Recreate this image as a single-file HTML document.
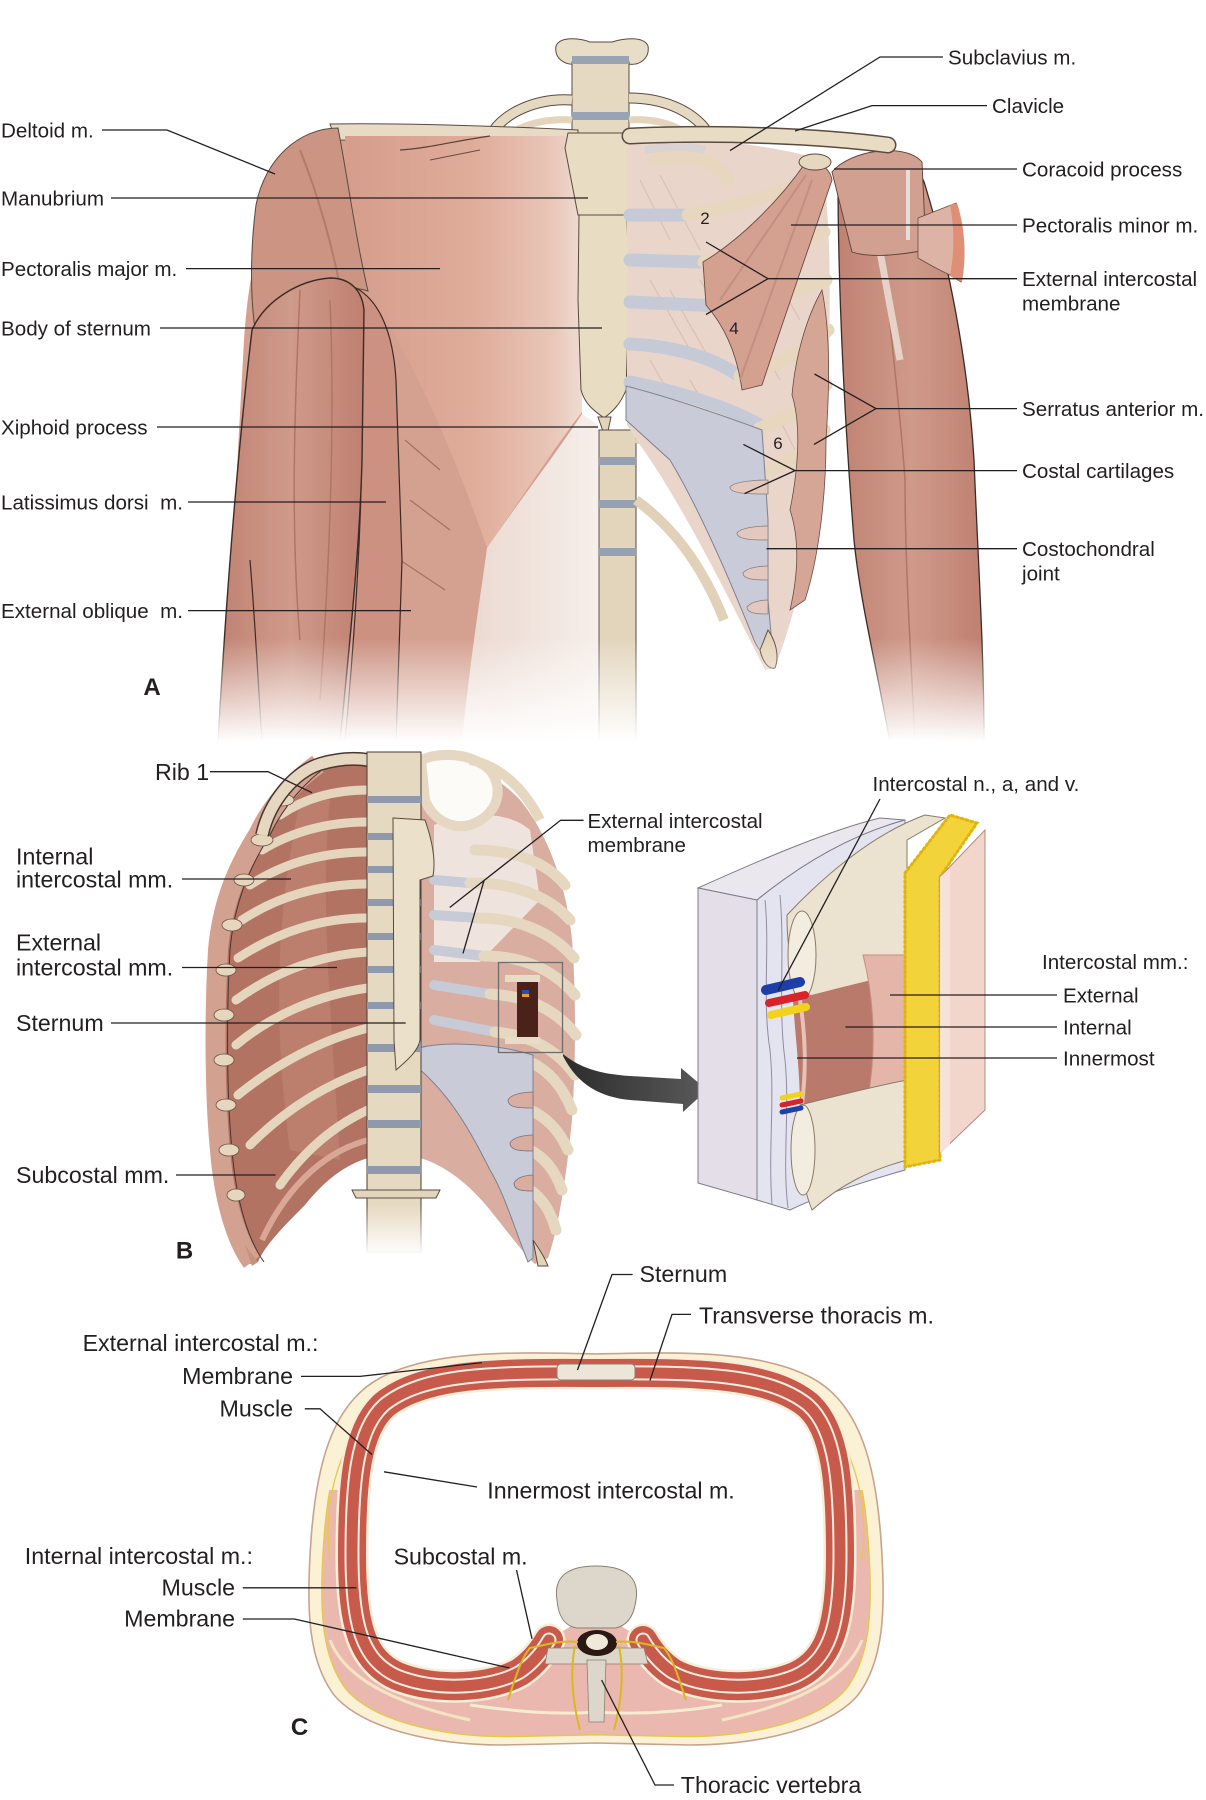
<!DOCTYPE html>
<html><head><meta charset="utf-8"><style>
html,body{margin:0;padding:0;background:#fff;}
svg{display:block;}
text{font-family:"Liberation Sans",Arial,sans-serif;fill:#231f20;}
.a{font-size:20.6px;}
.b{font-size:23.2px;}
.L{stroke:#231f20;stroke-width:1.3;fill:none;}
.o{stroke:#5a4a40;stroke-width:1;}
</style></head><body>
<svg width="1206" height="1800" viewBox="0 0 1206 1800" xmlns="http://www.w3.org/2000/svg" xmlns:xlink="http://www.w3.org/1999/xlink">
<defs>
<linearGradient id="fadeA" x1="0" y1="0" x2="0" y2="1" gradientUnits="objectBoundingBox">
<stop offset="0" stop-color="#fff"/><stop offset="0.86" stop-color="#fff"/><stop offset="1" stop-color="#000"/></linearGradient>
<mask id="mA" maskUnits="userSpaceOnUse" x="0" y="0" width="1206" height="745"><rect x="0" y="0" width="1206" height="742" fill="url(#fadeA)"/></mask>
<linearGradient id="spineFade" x1="0" y1="0" x2="0" y2="1"><stop offset="0" stop-color="#fff" stop-opacity="0"/><stop offset="1" stop-color="#fff" stop-opacity="1"/></linearGradient>
<linearGradient id="pec" x1="340" y1="0" x2="590" y2="0" gradientUnits="userSpaceOnUse">
<stop offset="0" stop-color="#d59c8b"/><stop offset="0.55" stop-color="#e0ad9b"/><stop offset="0.85" stop-color="#e9c6b8"/><stop offset="1" stop-color="#f1e2da"/></linearGradient>
<linearGradient id="wedge" x1="480" y1="0" x2="600" y2="0" gradientUnits="userSpaceOnUse">
<stop offset="0" stop-color="#ecdbd3"/><stop offset="1" stop-color="#f6efea"/></linearGradient>
<linearGradient id="arm" x1="0" y1="0" x2="1" y2="0"><stop offset="0" stop-color="#c08272"/><stop offset="0.5" stop-color="#cf9a8a"/><stop offset="1" stop-color="#bf8070"/></linearGradient>
<linearGradient id="arrowG" x1="0" y1="0" x2="1" y2="0"><stop offset="0" stop-color="#2c2c2c"/><stop offset="1" stop-color="#5a5a5a"/></linearGradient>
<clipPath id="lowC"><rect x="0" y="1490" width="1206" height="300"/></clipPath>
<path id="wallP" d="M549,1640 C542,1652 532,1664 520,1672 C492,1688 437,1692 397,1676 C362,1660 352,1625 352,1555 C352,1485 356,1430 384,1405 C422,1374 492,1372 596,1373 C700,1372 770,1374 808,1405 C836,1430 840,1485 840,1555 C840,1625 830,1660 795,1676 C755,1692 700,1688 672,1672 C660,1664 650,1652 643,1640"/>
</defs>

<!-- ================= PANEL A ================= -->
<g mask="url(#mA)">
 <path d="M556,46 C560,36 580,38 590,42 L612,42 C624,38 644,36 648,46 C650,58 640,66 628,64 L578,64 C564,66 554,58 556,46 Z" fill="#e8ddc7" class="o"/>
 <rect x="572" y="62" width="57" height="74" fill="#e6d9c1" class="o"/>
 <rect x="572" y="56" width="57" height="8" fill="#98a3b3"/>
 <rect x="572" y="112" width="57" height="8" fill="#98a3b3"/>
 <path d="M572,100 C540,98 505,110 490,136" stroke="#5a4a40" stroke-width="11" fill="none"/>
 <path d="M572,100 C540,98 505,110 490,136" stroke="#e6d9c1" stroke-width="9" fill="none"/>
 <path d="M629,98 C665,98 696,112 710,136" stroke="#5a4a40" stroke-width="11" fill="none"/>
 <path d="M629,98 C665,98 696,112 710,136" stroke="#e6d9c1" stroke-width="9" fill="none"/>
 <path d="M572,120 C548,118 522,124 508,136" stroke="#e3d4bb" stroke-width="7" fill="none"/>
 <path d="M629,120 C652,118 676,124 690,136" stroke="#e3d4bb" stroke-width="7" fill="none"/>

 <path d="M335,128 L578,133 L582,420 L598,430 L598,742 L222,742 L232,560 L244,340 C250,250 270,170 335,128 Z" fill="#d4a090"/>
 <path d="M330,124 C400,123 500,126 578,130 L578,142 L336,140 Z" fill="#e8dbc5" class="o"/>
 <path d="M345,136 L578,136 L582,412 C560,440 520,500 487,548 C460,470 420,370 368,291 C352,240 346,190 345,136 Z" fill="url(#pec)"/>
 <path d="M400,150 C430,148 460,140 490,136" stroke="#5a4038" stroke-width="1.2" fill="none"/>
 <path d="M430,160 L480,150" stroke="#6a4a40" stroke-width="1"/>
 <path d="M338,128 C300,128 265,158 256,205 C250,250 250,300 256,335 C280,300 320,278 368,291 C356,240 348,180 338,128 Z" fill="#cc9483" class="o"/>
 <path d="M300,150 C320,200 330,240 340,285" stroke="#b47a6a" stroke-width="2" fill="none"/>
 <path d="M582,414 L598,425 L598,742 L462,742 C470,660 480,600 487,548 C520,500 555,455 582,414 Z" fill="url(#wedge)"/>
 <path d="M405,440 L440,470 M410,500 L450,530 M400,560 L445,590" stroke="#a86e60" stroke-width="1.2"/>
 <path d="M356,288 C378,300 393,330 396,380 L402,560 L396,742 L345,742 C356,620 362,520 362,420 Z" fill="#cc9181" stroke="#3c2a25" stroke-width="1.2"/>
 <path d="M252,330 C265,300 300,280 330,278 C350,278 362,290 364,310 L362,460 C360,540 352,620 340,742 L218,742 C226,600 238,450 252,330 Z" fill="url(#arm)" stroke="#3c2a25" stroke-width="1.4"/>
 <path d="M300,290 C295,400 290,520 300,640 M330,300 C335,420 330,560 320,700" stroke="#b07565" stroke-width="1.5" fill="none"/>
 <path d="M250,560 C255,620 258,680 262,742" stroke="#3c2a25" stroke-width="1.2" fill="none"/>

 <path d="M568,133 L636,133 L641,148 L630,215 L578,215 L565,148 Z" fill="#e8dcc3" class="o"/>
 <path d="M579,215 L627,215 L629,300 L626,390 C620,405 612,412 604,418 C596,412 585,405 581,390 L578,300 Z" fill="#e8dcc3" class="o"/>
 <path d="M598,417 L611,417 L606,440 Z" fill="#e2d5bb" class="o"/>
 <rect x="599" y="430" width="37" height="312" fill="#e2d5bc" class="o"/>
 <rect x="599" y="457" width="37" height="8" fill="#95a0b0"/>
 <rect x="599" y="500" width="37" height="8" fill="#95a0b0"/>
 <rect x="599" y="548" width="37" height="8" fill="#95a0b0"/>
 <path d="M636,438 C660,445 680,455 692,468" stroke="#e0d1b8" stroke-width="10" fill="none"/>
 <path d="M636,500 C670,525 700,560 724,620" stroke="#e0d1b8" stroke-width="10" fill="none"/>

 <path d="M630,142 L700,140 C740,142 790,150 822,160 C832,230 832,330 824,440 C818,520 800,600 775,668 L765,670 C730,600 680,500 640,445 L627,425 L627,150 Z" fill="#ead5cb"/>
 <g stroke="#dcc1b5" stroke-width="1.3">
  <path d="M640,180 L670,240 M660,175 L700,250 M650,280 L690,350 M670,290 L710,360 M700,280 L740,350 M650,360 L690,430 M690,380 L730,450 M720,400 L760,470 M740,310 L780,380 M760,250 L800,320 M780,420 L810,480 M690,470 L730,540"/>
 </g>
 <g stroke="#c6c9d6" stroke-width="13" fill="none" stroke-linecap="round">
  <path d="M630,215 L684,215"/>
  <path d="M630,260 L700,262"/>
  <path d="M630,302 L720,306"/>
  <path d="M630,344 C670,346 710,356 736,374"/>
  <path d="M630,382 C680,392 730,408 758,424"/>
 </g>
 <g stroke="#e6d7be" stroke-width="13" fill="none" stroke-linecap="round">
  <path d="M655,160 C690,150 715,160 728,180"/>
  <path d="M688,215 C730,208 770,196 806,182"/>
  <path d="M704,262 C745,255 790,245 824,232"/>
  <path d="M722,306 C765,300 800,290 826,280"/>
  <path d="M740,376 C775,368 805,350 828,330"/>
  <path d="M760,428 C790,420 812,400 826,385"/>
  <path d="M770,470 C795,460 812,445 824,430"/>
 </g>
 <path d="M626,386 C680,400 735,420 762,430 L768,520 L768,600 L772,645 C768,655 760,655 754,640 C730,580 700,510 670,460 L626,420 Z" fill="#c9ccd8" stroke="#7d8090" stroke-width="1"/>
 <g fill="#e2c8bf" stroke="#8a7f80" stroke-width="0.8">
  <path d="M730,487 C735,480 768,480 768,480 L768,494 C750,494 730,494 730,487 Z"/>
  <path d="M737,533 C742,526 768,526 768,526 L768,540 C755,540 737,540 737,533 Z"/>
  <path d="M743,573 C748,566 768,566 768,566 L768,580 C758,580 743,580 743,573 Z"/>
  <path d="M747,607 C752,600 768,600 768,600 L768,614 C760,614 747,614 747,607 Z"/>
 </g>
 <path d="M768,630 C775,640 780,655 775,668 C768,670 762,660 760,650 Z" fill="#e4d3b8" class="o"/>
 <path d="M822,290 C805,320 795,360 792,395 C800,420 800,460 790,510 C800,540 798,575 790,610 L805,600 C818,560 826,500 826,440 C830,380 830,330 822,290 Z" fill="#d5a696" stroke="#6a4a40" stroke-width="0.8"/>
 <path d="M806,162 C818,160 830,168 832,180 C815,230 790,300 762,385 L742,390 C738,360 728,330 706,305 L703,262 C740,240 780,200 806,162 Z" fill="#d4a090" stroke="#6a4a40" stroke-width="0.9"/>
 <path d="M806,175 L720,300 M812,180 L740,380" stroke="#c48e80" stroke-width="2"/>
 <path d="M838,178 C860,155 915,150 925,185 C948,260 968,360 974,460 C978,560 984,650 984,742 L890,742 C875,660 860,600 854,540 C846,440 838,300 838,178 Z" fill="url(#arm)" stroke="#3c2a25" stroke-width="1.3"/>
 <path d="M880,200 C885,300 900,400 905,480 C905,560 910,640 915,742" stroke="#b07565" stroke-width="1.5" fill="none"/>
 <path d="M865,170 L900,360" stroke="#e6d2c8" stroke-width="7"/>
 <path d="M832,172 C850,150 905,142 922,162 L926,250 C900,255 870,258 852,252 Z" fill="#d2a090" stroke="#5a4038" stroke-width="0.9"/>
 <path d="M908,170 L908,240" stroke="#e8dcd6" stroke-width="4"/>
 <path d="M918,218 L956,203 C964,230 964,260 961,282 L948,274 C935,268 925,262 918,258 Z" fill="#dcb3a4" stroke="#6a4a40" stroke-width="0.8"/>
 <path d="M950,205 L957,203 C966,230 966,260 962,282 L950,276 C955,250 954,225 950,205 Z" fill="#df8f76"/>
 <path d="M630,136 C720,132 820,136 888,145" stroke="#5a4a40" stroke-width="17" fill="none" stroke-linecap="round"/>
 <path d="M630,136 C720,132 820,136 888,145" stroke="#e8dcc5" stroke-width="14" fill="none" stroke-linecap="round"/>
 <path d="M645,150 C670,146 690,146 705,150" stroke="#d9d3d3" stroke-width="8" fill="none"/>
 <ellipse cx="815" cy="162" rx="16" ry="8" fill="#e6d8bf" class="o"/>
</g>

<g class="a">
<text x="1" y="137.5">Deltoid m.</text>
<text x="1" y="205.5">Manubrium</text>
<text x="1" y="276">Pectoralis major m.</text>
<text x="1" y="335.5">Body of sternum</text>
<text x="1" y="434.5">Xiphoid process</text>
<text x="1" y="509.5" style="white-space:pre">Latissimus dorsi  m.</text>
<text x="1" y="618" style="white-space:pre">External oblique  m.</text>
<text x="948" y="64.5">Subclavius m.</text>
<text x="992" y="113">Clavicle</text>
<text x="1022" y="176.5">Coracoid process</text>
<text x="1022" y="232.5">Pectoralis minor m.</text>
<text x="1022" y="286">External intercostal</text>
<text x="1022" y="310.5">membrane</text>
<text x="1022" y="416">Serratus anterior m.</text>
<text x="1022" y="478">Costal cartilages</text>
<text x="1022" y="556">Costochondral</text>
<text x="1022" y="580.5">joint</text>
</g>
<g style="font-size:17px" text-anchor="middle">
<text x="705" y="224">2</text><text x="734" y="334">4</text><text x="778" y="449">6</text>
</g>
<text x="152" y="695" style="font-size:24px;font-weight:bold" text-anchor="middle">A</text>
<g class="L">
<path d="M102,130 L167,130 L275,174"/>
<path d="M111,198 L588,198"/>
<path d="M186,268.6 L440,268.6"/>
<path d="M160,328 L602,328"/>
<path d="M157,427 L598,427"/>
<path d="M188,502 L386,502"/>
<path d="M188,610.6 L411,610.6"/>
<path d="M943,57 L880,57 L730,150.6"/>
<path d="M987,105.6 L872,105.6 L795,131"/>
<path d="M1017,169 L834,169"/>
<path d="M1017,225 L791,225"/>
<path d="M1017,278.7 L768,278.7 L706,242 M768,278.7 L706,314.5"/>
<path d="M1017,408.6 L876,408.6 L814.5,374 M876,408.6 L814,444.4"/>
<path d="M1017,470.6 L795,470.6 L743.4,444.4 M795,470.6 L744.5,493.6"/>
<path d="M1017,548.7 L766.5,548.7"/>
</g>

<!-- ================= PANEL B ================= -->
<g>
 <path d="M318,762 C300,775 275,800 262,830 C240,860 222,900 216,950 C212,1020 213,1100 218,1150 C222,1200 235,1240 250,1264 L258,1262 C265,1245 285,1225 305,1205 C325,1180 345,1165 368,1158 L368,758 C350,758 330,758 318,762 Z" fill="#b27363"/>
 <path d="M420,758 L440,758 C470,762 500,778 520,800 C545,830 566,880 572,940 C576,990 576,1060 572,1120 C566,1180 558,1230 548,1258 L535,1264 C525,1255 510,1235 490,1210 C470,1185 445,1165 420,1158 Z" fill="#d9ad9f"/>
 <path d="M300,800 C280,900 270,1000 290,1150 L340,1160 C330,1000 320,900 330,800 Z" fill="#c08474" opacity="0.7"/>
 <g stroke="#e4d5bc" stroke-width="9" fill="none" stroke-linecap="round">
  <path d="M368,790 C335,790 305,798 280,815"/>
  <path d="M368,822 C330,822 295,830 262,850"/>
  <path d="M368,852 C325,852 285,862 250,885"/>
  <path d="M368,884 C322,884 280,895 242,920"/>
  <path d="M368,918 C320,918 278,932 238,958"/>
  <path d="M368,952 C318,955 275,972 236,1000"/>
  <path d="M368,988 C318,995 272,1015 236,1045"/>
  <path d="M368,1028 C320,1040 275,1065 238,1095"/>
  <path d="M368,1070 C325,1085 285,1110 250,1145"/>
  <path d="M368,1110 C335,1125 305,1150 280,1185"/>
 </g>
 <path d="M368,1140 C330,1150 290,1180 262,1240" stroke="#d9a796" stroke-width="6" fill="none"/>
 <path d="M318,764 C295,780 272,805 258,835 C236,870 222,905 218,950 C214,1020 215,1100 220,1150 C224,1200 236,1240 252,1262" stroke="#d3a190" stroke-width="20" fill="none"/>
 <path d="M318,764 C295,780 272,805 258,835 C236,870 222,905 218,950 C214,1020 215,1100 220,1150 C224,1200 236,1240 252,1262" stroke="#4a3530" stroke-width="1" fill="none" transform="translate(12,0)"/>
 <g fill="#e6d6bd" stroke="#6a5548" stroke-width="0.8">
  <ellipse cx="282" cy="800" rx="12" ry="6"/><ellipse cx="262" cy="840" rx="11" ry="6"/><ellipse cx="244" cy="880" rx="10" ry="6"/>
  <ellipse cx="232" cy="925" rx="10" ry="6"/><ellipse cx="226" cy="970" rx="10" ry="6"/><ellipse cx="224" cy="1015" rx="10" ry="6"/>
  <ellipse cx="224" cy="1060" rx="10" ry="6"/><ellipse cx="226" cy="1105" rx="10" ry="6"/><ellipse cx="229" cy="1150" rx="10" ry="6"/>
  <ellipse cx="236" cy="1195" rx="9" ry="6"/>
 </g>
 <path d="M262,835 C270,800 295,772 320,764 C340,758 355,758 368,760" stroke="#4a3530" stroke-width="14" fill="none"/>
 <path d="M262,835 C270,800 295,772 320,764 C340,758 355,758 368,760" stroke="#e6d8c0" stroke-width="11" fill="none"/>
 <path d="M434,825 C470,810 510,812 530,830 L540,900 L480,962 L434,962 Z" fill="#efe3dd"/>
 <path d="M421,760 C440,752 470,752 490,770 C505,790 498,815 470,825 C450,830 432,818 425,800 Z" fill="#fdfbf8" stroke="#e5d7c1" stroke-width="10"/>
 <path d="M470,760 C500,765 525,790 540,820" stroke="#e6d8c0" stroke-width="10" fill="none"/>
 <g stroke="#c7cad7" stroke-width="10" fill="none" stroke-linecap="round">
  <path d="M434,880 L470,883"/><path d="M434,915 L478,918"/><path d="M434,950 L484,956"/>
  <path d="M434,985 L490,994"/><path d="M434,1020 L495,1032"/>
 </g>
 <g stroke="#e6d8c0" stroke-width="11" fill="none" stroke-linecap="round">
  <path d="M475,850 C510,850 545,860 565,885"/>
  <path d="M470,883 C510,882 548,895 570,920"/>
  <path d="M478,918 C515,918 550,930 574,958"/>
  <path d="M484,956 C520,956 552,968 575,995"/>
  <path d="M490,994 C525,996 555,1008 576,1035"/>
  <path d="M495,1032 C528,1035 556,1048 575,1075"/>
  <path d="M530,1062 C548,1070 562,1085 572,1110"/>
  <path d="M530,1110 C548,1118 560,1132 568,1150"/>
  <path d="M530,1150 C545,1158 555,1170 562,1190"/>
  <path d="M530,1190 C542,1198 550,1210 556,1230"/>
 </g>
 <path d="M418,1048 C450,1040 500,1045 533,1055 L533,1258 L528,1262 C515,1230 505,1195 490,1170 C470,1130 450,1095 418,1068 Z" fill="#c9ccd8" stroke="#7d8090" stroke-width="1"/>
 <g fill="#d9ad9f" stroke="#7d7078" stroke-width="0.8">
  <path d="M508,1100 C512,1092 533,1092 533,1092 L533,1108 C520,1108 508,1108 508,1100 Z"/>
  <path d="M510,1143 C514,1135 533,1135 533,1135 L533,1151 C522,1151 510,1151 510,1143 Z"/>
  <path d="M514,1183 C518,1175 533,1175 533,1175 L533,1191 C524,1191 514,1191 514,1183 Z"/>
 </g>
 <path d="M533,1240 C540,1250 545,1258 548,1266 L538,1266 Z" fill="#e4d3b8" class="o"/>
 <path d="M245,1245 L252,1266 L258,1262 Z" fill="#c7907f"/>
 <!-- spine -->
 <rect x="367" y="752" width="54" height="500" fill="#e6d9c1" stroke="#4a3a30" stroke-width="1"/>
 <g fill="#8e9aab">
  <rect x="367" y="796" width="54" height="7"/><rect x="367" y="833" width="54" height="7"/><rect x="367" y="866" width="54" height="7"/>
  <rect x="367" y="899" width="54" height="7"/><rect x="367" y="933" width="54" height="7"/><rect x="367" y="966" width="54" height="7"/>
  <rect x="367" y="1002" width="54" height="7"/><rect x="367" y="1044" width="54" height="8"/><rect x="367" y="1085" width="54" height="8"/>
  <rect x="367" y="1120" width="54" height="8"/><rect x="367" y="1166" width="54" height="8"/>
 </g>
 <path d="M352,1190 L440,1190 L436,1198 L356,1198 Z" fill="#e2d5bc" class="o"/>
 <rect x="350" y="1205" width="90" height="50" fill="url(#spineFade)"/>
 <path d="M393,818 L425,820 C432,840 436,860 433,876 L420,880 L420,1040 C418,1052 405,1062 396,1070 L394,1040 Z" fill="#ebe0c9" stroke="#5a4a40" stroke-width="1"/>
 <rect x="498.5" y="962.5" width="64" height="90" fill="none" stroke="#6d6d6d" stroke-width="1.3"/>
 <rect x="517" y="978" width="21" height="60" fill="#4b2219"/>
 <path d="M505,975 L540,975 L540,982 L505,982 Z" fill="#e8dcc6"/>
 <path d="M505,1037 L540,1037 L540,1044 L505,1044 Z" fill="#e8dcc6"/>
 <rect x="522" y="990" width="7" height="4" fill="#2a4fb0"/><rect x="522" y="994" width="7" height="3" fill="#e8a020"/>
</g>
<path d="M563,1054 C580,1068 600,1074 630,1076 L681,1079 L681,1068 L707,1090 L683,1112 L683,1104 L630,1100 C600,1097 578,1085 563,1056 Z" fill="url(#arrowG)"/>

<!-- inset block -->
<g>
 <path d="M698,888 C760,860 830,830 880,818 L905,820 C850,835 800,865 757,900 Z" fill="#ebe7ef" stroke="#7d7a88" stroke-width="1"/>
 <path d="M698,888 L757,900 L757,1200 L698,1183 Z" fill="#e3dee8" stroke="#7d7a88" stroke-width="1"/>
 <path d="M757,900 C800,865 850,835 905,820 L905,1170 C870,1180 820,1195 790,1210 L757,1200 Z" fill="#e4e4f0" stroke="#7d7a88" stroke-width="1"/>
 <path d="M765,900 C770,950 762,1000 770,1050 C775,1100 768,1150 772,1205 M780,895 C785,950 778,1010 785,1060 C790,1110 782,1160 788,1208" stroke="#8f8ca0" stroke-width="1" fill="none"/>
 <path d="M787,915 C820,880 870,835 925,815 L945,818 L907,840 L907,975 C870,982 840,990 815,998 C795,990 787,960 787,915 Z" fill="#ebe3cf" stroke="#8a7a68" stroke-width="1"/>
 <ellipse cx="802" cy="955" rx="14" ry="44" fill="#f3ede0" stroke="#8a7a68" stroke-width="1"/>
 <path d="M793,1000 C830,990 870,980 907,972 L907,1083 C870,1090 835,1100 800,1108 C800,1070 795,1035 793,1000 Z" fill="#b9796b"/>
 <path d="M863,955 C872,990 878,1040 868,1098 L907,1085 L907,955 Z" fill="#e4b5a9" stroke="#c48e80" stroke-width="1"/>
 <path d="M800,1000 C806,1040 806,1070 802,1105" stroke="#e8c2b8" stroke-width="4" fill="none"/>
 <path d="M800,1105 C840,1095 875,1086 907,1080 L907,1160 C870,1170 840,1185 812,1210 C800,1180 797,1140 800,1105 Z" fill="#ebe3cf" stroke="#8a7a68" stroke-width="1"/>
 <ellipse cx="803" cy="1150" rx="12" ry="45" fill="#f3ede0" stroke="#8a7a68" stroke-width="1"/>
 <path d="M766,990 L800,982" stroke="#1f3fa8" stroke-width="10" stroke-linecap="round"/>
 <path d="M769,1003 L805,995" stroke="#d8232a" stroke-width="8" stroke-linecap="round"/>
 <path d="M771,1015 L806,1007" stroke="#f3d21a" stroke-width="8" stroke-linecap="round"/>
 <path d="M782,1098 L801,1094" stroke="#f3d21a" stroke-width="5" stroke-linecap="round"/>
 <path d="M782,1105 L801,1101" stroke="#d8232a" stroke-width="5" stroke-linecap="round"/>
 <path d="M782,1112 L801,1108" stroke="#1f3fa8" stroke-width="5" stroke-linecap="round"/>
 <path d="M905,873 L950,815 L977,823 L940,877 L940,1160 L905,1167 Z" fill="#f2d33a" stroke="#e0b410" stroke-width="3" stroke-dasharray="2 3" stroke-linecap="round"/>
 <path d="M940,877 L985,830 L985,1110 L940,1153 Z" fill="#f3d6cb" stroke="#b8897a" stroke-width="1"/>
 <path d="M940,877 L950,868 L950,1145 L940,1153 Z" fill="#f7e2da"/>
</g>

<g class="b">
<text x="155" y="780">Rib 1</text>
<text x="16" y="864.5">Internal</text>
<text x="16" y="887.5">intercostal mm.</text>
<text x="16" y="950.5">External</text>
<text x="16" y="975.5">intercostal mm.</text>
<text x="16" y="1031">Sternum</text>
<text x="16" y="1183">Subcostal mm.</text>
</g>
<text x="184.5" y="1258.5" style="font-size:24px;font-weight:bold" text-anchor="middle">B</text>
<g class="a">
<text x="587.5" y="828">External intercostal</text>
<text x="587.5" y="852">membrane</text>
<text x="872.5" y="791">Intercostal n., a, and v.</text>
<text x="1042" y="969">Intercostal mm.:</text>
<text x="1063" y="1002.5">External</text>
<text x="1063" y="1034.5">Internal</text>
<text x="1063" y="1065.5">Innermost</text>
</g>
<g class="L">
<path d="M210,771.7 L268,771.7 L312,792.7"/>
<path d="M182,879 L291,879"/>
<path d="M182,967.5 L337,967.5"/>
<path d="M111,1023 L405.7,1023"/>
<path d="M176,1175 L275.5,1175"/>
<path d="M583.6,820.3 L560.6,820.3 L449.7,907.5 M484,880.7 L463,953.4"/>
<path d="M880,799 L778,990.6"/>
<path d="M1057,995 L890,995"/>
<path d="M1057,1027 L845.5,1027"/>
<path d="M1057,1058 L797,1058"/>
</g>

<!-- ================= PANEL C ================= -->
<g>
 <path d="M596,1354 C680,1352 760,1350 812,1378 C862,1405 876,1470 881,1540 C886,1610 884,1660 858,1695 C830,1728 760,1745 690,1745 L596,1743 L502,1745 C432,1745 362,1728 334,1695 C308,1660 306,1610 311,1540 C316,1470 330,1405 380,1378 C432,1350 512,1352 596,1354 Z" fill="#fbf2d6" stroke="#c9a28e" stroke-width="1.6"/>
 <g clip-path="url(#lowC)">
  <path d="M596,1354 C680,1352 760,1350 812,1378 C862,1405 876,1470 881,1540 C886,1610 884,1660 858,1695 C830,1728 760,1745 690,1745 L596,1743 L502,1745 C432,1745 362,1728 334,1695 C308,1660 306,1610 311,1540 C316,1470 330,1405 380,1378 C432,1350 512,1352 596,1354 Z" fill="#ebb8b0" stroke="#e6c84a" stroke-width="1.5" transform="translate(596,1560) scale(0.955) translate(-596,-1560)"/>
 </g>
 <path d="M470,1705 C520,1712 560,1715 596,1712 C640,1715 680,1712 722,1705" stroke="#f6ecd0" stroke-width="3" fill="none"/>
 <path d="M330,1640 C345,1680 400,1705 470,1720 M862,1640 C847,1680 792,1705 722,1720" stroke="#f3e4c4" stroke-width="3" fill="none"/>
 <path d="M330,1560 C322,1500 340,1430 390,1395 M862,1560 C870,1500 852,1430 802,1395" stroke="#e6c84a" stroke-width="1.3" fill="none"/>
 <path d="M549,1640 C542,1652 532,1664 520,1672 C492,1688 437,1692 397,1676 C362,1660 352,1625 352,1555 C352,1485 356,1430 384,1405 C422,1374 492,1372 596,1373 C700,1372 770,1374 808,1405 C836,1430 840,1485 840,1555 C840,1625 830,1660 795,1676 C755,1692 700,1688 672,1672 C660,1664 650,1652 643,1640 L596,1610 Z" fill="#ffffff"/>
 <g fill="none" stroke-linecap="round">
  <use xlink:href="#wallP" href="#wallP" stroke="#f7eed8" stroke-width="33"/>
  <use xlink:href="#wallP" href="#wallP" stroke="#c85a4b" stroke-width="28"/>
  <use xlink:href="#wallP" href="#wallP" stroke="#f5ecdf" stroke-width="15"/>
  <use xlink:href="#wallP" href="#wallP" stroke="#c85a4b" stroke-width="11"/>
 </g>
 <rect x="557" y="1364" width="78" height="16" rx="4" fill="#ede6d8" stroke="#8a7f72" stroke-width="1"/>
 <path d="M557,1600 C553,1575 570,1566 596,1566 C622,1566 640,1575 636,1600 C634,1615 628,1626 615,1628 L577,1628 C564,1626 558,1615 557,1600 Z" fill="#ddd6cb" stroke="#8a7f72" stroke-width="1"/>
 <path d="M548,1648 L644,1648 L648,1664 L545,1664 Z" fill="#ddd6cb" stroke="#8a7f72" stroke-width="0.8"/>
 <path d="M587,1660 L606,1660 L604,1722 L589,1722 Z" fill="#ddd6cb" stroke="#8a7f72" stroke-width="0.8"/>
 <ellipse cx="597" cy="1643" rx="20" ry="13" fill="#2a1812"/>
 <ellipse cx="597" cy="1642" rx="11" ry="8" fill="#f0e8d8"/>
 <path d="M578,1642 C560,1640 545,1645 530,1648 C520,1660 515,1680 508,1700 M616,1642 C634,1640 649,1645 664,1648 C674,1660 679,1680 686,1700 M575,1646 C570,1670 572,1700 580,1730 M619,1646 C624,1670 622,1700 614,1730" stroke="#d9b820" stroke-width="2" fill="none"/>
</g>

<g class="b">
<text x="639.5" y="1282">Sternum</text>
<text x="699" y="1323.5">Transverse thoracis m.</text>
<text x="82.6" y="1351">External intercostal m.:</text>
<text x="293" y="1384" text-anchor="end">Membrane</text>
<text x="293" y="1416.5" text-anchor="end">Muscle</text>
<text x="487.3" y="1498.5">Innermost intercostal m.</text>
<text x="24.8" y="1564">Internal intercostal m.:</text>
<text x="235" y="1595.5" text-anchor="end">Muscle</text>
<text x="235" y="1626.5" text-anchor="end">Membrane</text>
<text x="393.6" y="1564.5">Subcostal m.</text>
<text x="680.8" y="1793">Thoracic vertebra</text>
</g>
<text x="299.6" y="1735" style="font-size:24px;font-weight:bold" text-anchor="middle">C</text>
<g class="L">
<path d="M632.6,1274.5 L612,1274.5 L577.5,1370"/>
<path d="M691,1314.4 L672,1314.4 L650,1380.5"/>
<path d="M301,1376.4 L360,1376.4 L482,1362.6"/>
<path d="M304.8,1408.8 L320,1408.8 L372,1454.6"/>
<path d="M477,1487 L384,1471.8"/>
<path d="M242.8,1587.8 L356.4,1587.8"/>
<path d="M242.8,1619 L294.4,1619 L509.6,1668"/>
<path d="M516.5,1570 L532,1638.8"/>
<path d="M674,1785 L655,1785 L601.6,1680"/>
</g>
</svg>
</body></html>
